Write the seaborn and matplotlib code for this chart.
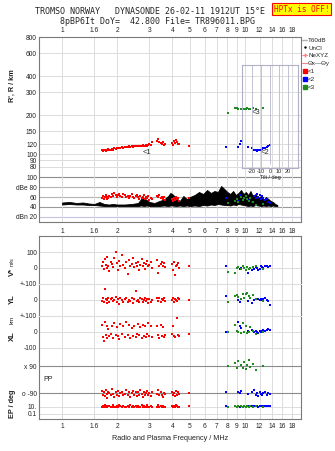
import numpy as np
import matplotlib
matplotlib.use("Agg")
import matplotlib.pyplot as plt
from matplotlib.lines import Line2D
from matplotlib.ticker import NullLocator
import seaborn as sns

sns.set_style("white")
plt.rcParams['font.family'] = ['Liberation Sans', 'DejaVu Sans']

# ---------------- data ----------------
FREQ_TICK_POS = [1, 1.5, 2, 3, 4, 5, 6, 7, 8, 9, 10, 12, 14, 16, 18]
FREQ_TICK_LABELS = ["1", "1.6", "2", "3", "4", "5", "6", "7", "8", "9", "10", "12", "14", "16", "18"]
HEIGHT_TICKS = [800, 600, 400, 300, 200, 150, 120, 100, 90, 80]
DB_TICKS = [100, 80, 60, 40, 20]
DB_LABELS = ["100", "dBe 80", "60", "40", "dBn 20"]

# echo group <1 (red)
R_F = [1.65, 1.67, 1.69, 1.71, 1.73, 1.75, 1.77, 1.79, 1.81, 1.84,
       1.87, 1.9, 1.93, 1.96, 1.99, 2.02, 2.05, 2.08, 2.12, 2.16,
       2.2, 2.24, 2.28, 2.32, 2.36, 2.4, 2.44, 2.48, 2.52, 2.56,
       2.6, 2.64, 2.68, 2.72, 2.76, 2.8, 2.84, 2.88, 2.92, 2.96,
       3.0, 3.05, 3.1, 3.3, 3.35, 3.4, 3.45, 3.5, 3.55, 3.6,
       3.65, 4.0, 4.05, 4.1, 4.15, 4.2, 4.25, 4.3, 4.35, 4.95]
R_H = [108, 107, 109, 108, 107, 109, 108, 110, 109, 108,
       110, 109, 111, 110, 112, 111, 112, 111, 113, 112,
       114, 113, 113, 115, 114, 115, 114, 116, 115, 117,
       116, 115, 117, 116, 118, 117, 116, 118, 117, 119,
       121, 118, 124, 127, 131, 125, 122, 120, 124, 119,
       121, 123, 118, 126, 122, 129, 124, 121, 120, 116]
R_A = [58, 62, 56, 60, 64, 57, 61, 59, 63, 60,
       66, 62, 68, 64, 60, 65, 67, 63, 61, 66,
       64, 60, 62, 58, 63, 66, 61, 59, 62, 64,
       60, 57, 63, 59, 61, 64, 56, 60, 58, 62,
       55, 59, 57, 62, 60, 64, 58, 61, 56, 60,
       54, 57, 52, 59, 55, 61, 56, 58, 53, 58]
R_V = [10, 35, -5, 55, 20, 0, 70, 15, -20, 40,
       25, 5, 60, 100, 30, -10, 45, 15, 80, 20,
       0, 35, -40, 50, 10, 25, 65, 5, 30, 15,
       40, -15, 20, 55, 10, 30, -5, 25, 45, 15,
       20, 35, 0, 50, -30, 15, 25, 40, 10, 30,
       5, 25, -10, 35, -45, 15, 20, 30, 0, 15]
R_YL = [-5, 10, -15, 70, 5, -20, 0, 15, -10, 5,
        10, -5, 0, 20, -15, 5, -25, 10, 0, -10,
        5, 15, -10, 0, -5, 10, -20, 5, 55, -5,
        0, -15, 10, 5, -10, 0, 15, -5, 5, -20,
        5, -10, 0, 10, -5, 15, -15, 5, 0, 10,
        -5, 0, 10, -10, 5, 0, -5, 10, 5, 0]
R_XL = [45, -30, -55, 60, -20, 35, -40, 20, -25, -10,
        40, -35, 55, -20, 30, -25, -45, 50, -15, 35,
        -30, 60, -20, 45, -35, 25, -25, 40, -30, -15,
        50, -20, 30, -35, 45, -25, 35, -30, -10, 55,
        -25, 40, -30, 35, -20, -35, 45, -25, 30, -30,
        -20, -15, 40, -25, -30, 120, 90, -20, -25, -10]
R_PP = [-75, -100, -85, -110, -70, -95, -120, -80, -90, -105,
        -65, -95, -115, -85, -100, -75, -110, -90, -80, -100,
        -95, -70, -105, -85, -115, -90, -75, -100, -85, -110,
        -80, -100, -70, -95, -115, -85, -105, -90, -75, -100,
        -90, -110, -80, -95, -70, -105, -85, -100, -115, -90,
        -95, -80, -105, -90, -110, -75, -100, -85, -95, -90]
R_EP = [12, 25, 10, 30, 11, 18, 9, 22, 14, 13,
        11, 27, 13, 10, 20, 12, 35, 14, 11, 16,
        13, 10, 24, 12, 30, 11, 14, 9, 26, 12,
        14, 12, 10, 28, 13, 20, 11, 12, 32, 10,
        12, 25, 13, 11, 30, 10, 14, 12, 22, 13,
        11, 24, 12, 16, 10, 28, 15, 11, 12, 14]

# echo group <2 (blue)
B_F = [7.9, 9.2, 9.35, 9.5, 10.4, 10.9, 11.2, 11.4, 11.6, 11.8, 12.0, 12.2, 12.4, 12.6, 12.8, 13.1, 13.4, 13.7]
B_H = [113, 113, 121, 126, 113, 111, 109, 108, 107, 108, 108, 109, 110, 111, 112, 114, 116, 119]
B_A = [58, 52, 64, 60, 55, 50, 62, 58, 66, 60, 64, 56, 62, 58, 54, 56, 50, 48]
B_V = [12, 5, -5, 0, -30, -10, -5, 5, 0, -10, -5, 10, 5, 0, 15, 10, 5, 10]
B_YL = [25, 0, -10, 5, -5, -20, 0, 5, 5, 5, 0, 5, 0, 5, 10, 0, -5, -30]
B_XL = [0, 60, 40, 25, 5, 10, 0, 5, 0, -5, 5, 0, 5, 10, 5, 10, 20, 10]
B_PP = [-80, -85, -90, -75, -95, -85, -70, -100, -90, -110, -80, -95, -105, -90, -85, -100, -90, -95]
B_EP = [15, 20, 12, 25, 18, 14, 22, 16, 20, 12, 18, 25, 15, 20, 14, 18, 22, 16]

# echo group <3 (green)
G_F = [8.1, 8.8, 9.0, 9.2, 9.5, 9.7, 9.9, 10.1, 10.3, 10.5, 10.7, 11.0, 11.5, 12.5]
G_H = [207, 229, 226, 224, 225, 224, 225, 224, 226, 225, 224, 226, 225, 228]
G_A = [48, 52, 56, 50, 60, 54, 58, 62, 56, 52, 58, 50, 44, 46]
G_V = [-25, -30, 0, 5, -5, 10, 0, -10, 5, -5, 0, 5, 10, -5]
G_YL = [-15, 25, 30, 20, 5, 35, 15, 40, 45, 25, 10, 30, 5, -5]
G_XL = [0, 45, 5, 0, -5, 55, 0, 35, -5, 0, 30, 5, -10, 0]
G_PP = [90, 110, 75, 125, 95, 80, 115, 70, 100, 130, 85, 105, 65, 90]
G_EP = [12, 15, 10, 18, 14, 12, 16, 11, 15, 13, 17, 12, 14, 10]

# noise envelope (dB)
NF = [1.0, 1.1, 1.2, 1.3, 1.4, 1.5, 1.6, 1.7, 1.8, 1.9,
      2.0, 2.2, 2.4, 2.6, 2.7, 2.8, 2.9, 3.0, 3.2, 3.4,
      3.6, 3.8, 3.9, 4.0, 4.2, 4.4, 4.6, 4.8, 5.0, 5.3,
      5.6, 5.9, 6.2, 6.5, 6.8, 7.1, 7.4, 7.7, 8.0, 8.3,
      8.6, 8.9, 9.2, 9.5, 9.8, 10.1, 10.4, 10.7, 11.0, 11.4,
      11.8, 12.2, 12.6, 13.0, 13.4, 13.8, 14.2, 14.6, 15.0]
N_LO = [45, 46, 45, 45, 44, 44, 43, 42, 42, 42,
        42, 42, 42, 42, 43, 42, 43, 42, 42, 42,
        43, 42, 43, 43, 42, 43, 42, 43, 42, 43,
        42, 44, 43, 45, 44, 46, 45, 44, 44, 43,
        45, 44, 46, 45, 44, 43, 42, 43, 42, 44,
        43, 42, 43, 42, 43, 42, 43, 42, 42]
N_HI = [49, 50, 48, 49, 47, 46, 50, 46, 45, 46,
        45, 45, 46, 48, 56, 58, 54, 50, 48, 52,
        55, 62, 68, 66, 58, 52, 62, 56, 60, 64,
        70, 66, 74, 68, 72, 70, 82, 76, 70, 66,
        72, 64, 68, 74, 66, 70, 64, 72, 62, 66,
        58, 62, 54, 60, 56, 52, 50, 46, 44]

TILT_DEG = [0]
TILT_COUNT = [0.035]

RED, BLUE, GREEN = '#ff0000', '#0000ff', '#1e8c1e'

# ---------------- layout ----------------
W, H = 335, 451
fig = plt.figure(figsize=(W / 100, H / 100), dpi=100)


def rect(x0, y0, x1, y1):
    return [x0 / W, 1 - y1 / H, (x1 - x0) / W, (y1 - y0) / H]


FRAME = '#7a7a7a'
GRID = '#dcdcdc'
TICK_FS = 4.8


def setup(ax, hide=()):
    ax.set_facecolor('white')
    ax.set_xscale('log')
    ax.set_xlim(0.748, 20.2)
    ax.set_xticks(FREQ_TICK_POS)
    ax.set_xticklabels(FREQ_TICK_LABELS)
    ax.xaxis.set_minor_locator(NullLocator())
    ax.grid(axis='x', color=GRID, lw=0.7)
    ax.set_axisbelow(True)
    ax.tick_params(axis='both', length=0, labelsize=TICK_FS, pad=1.5,
                   labelbottom=False, labeltop=False, colors='#222222')
    for s in ax.spines.values():
        s.set_color(FRAME)
        s.set_linewidth(0.8)
    for s in hide:
        ax.spines[s].set_visible(False)


def pts(ax, x, y, c):
    sns.scatterplot(x=x, y=y, ax=ax, color=c, marker='s', s=4.0,
                    linewidth=0, legend=False, zorder=3)


# --- height panel ---
ax_h = fig.add_axes(rect(39, 37, 301, 172))
setup(ax_h, hide=('bottom',))
ax_h.set_yscale('log')
ax_h.set_ylim(73.2, 800)
ax_h.set_yticks(HEIGHT_TICKS)
ax_h.set_yticklabels([str(v) for v in HEIGHT_TICKS])
ax_h.yaxis.set_minor_locator(NullLocator())
ax_h.grid(axis='y', color=GRID, lw=0.7)
ax_h.tick_params(axis='x', labeltop=True, pad=2)
pts(ax_h, R_F, R_H, RED)
pts(ax_h, B_F, B_H, BLUE)
pts(ax_h, G_F, G_H, GREEN)
ax_h.text(2.77, 104, "<1", fontsize=5.5, va='center', ha='left', zorder=4)
ax_h.text(12.2, 104, "<2", fontsize=5.5, va='center', ha='left', zorder=4)
ax_h.text(10.9, 211, "<3", fontsize=5.5, va='center', ha='left', zorder=4)
ax_h.set_xlabel('')
ax_h.set_ylabel('')

# --- dB panel ---
ax_db = fig.add_axes(rect(39, 172, 301, 222))
setup(ax_db, hide=('top',))
ax_db.set_ylim(10, 110)
ax_db.set_yticks(DB_TICKS)
ax_db.set_yticklabels(DB_LABELS)
grid_cols = ['#8c8c8c', '#b4b4b4', '#b4b4b4', '#9a9a9a', '#c4c4e4']
for v, c in zip(DB_TICKS, grid_cols):
    ax_db.axhline(v, color=c, lw=0.8, zorder=0.5)
ax_db.tick_params(axis='x', labelbottom=True, pad=4)
ax_db.fill_between(NF, N_LO, N_HI, color='black', lw=0.6, zorder=2)
pts(ax_db, R_F, R_A, RED)
pts(ax_db, B_F, B_A, BLUE)
pts(ax_db, G_F, G_A, GREEN)
ax_db.set_xlabel('')
ax_db.set_ylabel('')

# --- tilt inset ---
ax_t = fig.add_axes(rect(242, 65, 298, 168))
ax_t.patch.set_alpha(0)
ax_t.set_xlim(-31, 31)
ax_t.set_ylim(0, 1)
ax_t.set_xticks([-20, -10, 0, 10, 20])
ax_t.set_xticklabels(["-20", "-10", "0", "10", "20"])
ax_t.set_yticks([])
ax_t.grid(axis='x', color='#b8b8cc', lw=0.6)
ax_t.tick_params(axis='x', length=0, labelsize=4.0, pad=1, colors='#222222')
for s in ax_t.spines.values():
    s.set_color('#b0b0c8')
    s.set_linewidth(0.8)
ax_t.bar(TILT_DEG, TILT_COUNT, width=1.0, color=RED, zorder=3)
ax_t.set_xlabel("Tilt / deg", fontsize=4.0, labelpad=0.5)

# --- bottom stack ---
ax_v = fig.add_axes(rect(39, 236, 301, 284))
setup(ax_v, hide=('bottom',))
ax_v.set_ylim(-100, 200)
ax_v.set_yticks([100, 0])
ax_v.set_yticklabels(["100", "0"])
ax_v.grid(axis='y', color=GRID, lw=0.7)

ax_yl = fig.add_axes(rect(39, 284, 301, 316))
setup(ax_yl, hide=('bottom',))
ax_yl.spines['top'].set_color(GRID)
ax_yl.set_ylim(-100, 100)
ax_yl.set_yticks([100, 0])
ax_yl.set_yticklabels(["+-100", "0"])
ax_yl.grid(axis='y', color=GRID, lw=0.7)

ax_xl = fig.add_axes(rect(39, 316, 301, 356))
setup(ax_xl, hide=('bottom',))
ax_xl.spines['top'].set_color(GRID)
ax_xl.set_ylim(-150, 100)
ax_xl.set_yticks([100, 0, -100])
ax_xl.set_yticklabels(["+-100", "0", "-100"])
ax_xl.grid(axis='y', color=GRID, lw=0.7)

ax_pp = fig.add_axes(rect(39, 356, 301, 401))
setup(ax_pp, hide=('top', 'bottom'))
ax_pp.set_ylim(-143, 157)
ax_pp.set_yticks([90, -90])
ax_pp.set_yticklabels(["x 90", "o -90"])
ax_pp.grid(axis='y', color='#8c8c8c', lw=0.8)
ax_pp.text(0.015, 0.47, "PP", transform=ax_pp.transAxes, fontsize=5,
           va='center', ha='left', color='#222222')

ax_ep = fig.add_axes(rect(39, 401, 301, 419))
setup(ax_ep, hide=('top',))
ax_ep.set_yscale('log')
ax_ep.set_ylim(0.0037, 518)
ax_ep.set_yticks([10, 0.1])
ax_ep.set_yticklabels(["10.", "0.1"])
ax_ep.yaxis.set_minor_locator(NullLocator())
ax_ep.grid(axis='y', color=GRID, lw=0.7)
ax_ep.tick_params(axis='x', labelbottom=True, pad=3)

for ax, (r, b, g) in zip([ax_v, ax_yl, ax_xl, ax_pp, ax_ep],
                         [(R_V, B_V, G_V), (R_YL, B_YL, G_YL), (R_XL, B_XL, G_XL),
                          (R_PP, B_PP, G_PP), (R_EP, B_EP, G_EP)]):
    pts(ax, R_F, r, RED)
    pts(ax, B_F, b, BLUE)
    pts(ax, G_F, g, GREEN)
    ax.set_xlabel('')
    ax.set_ylabel('')

# --- texts ---
fig.text(35 / W, 1 - 12 / H, "TROMSO NORWAY   DYNASONDE 26-02-11 1912UT 15°E",
         family='DejaVu Sans Mono', fontsize=6, va='center', ha='left')
fig.text(60 / W, 1 - 21 / H, "8pBP6It DoY=  42.800 File= TR896011.BPG",
         family='DejaVu Sans Mono', fontsize=6, va='center', ha='left')
fig.text(274 / W, 1 - 9 / H, "HPTx is OFF!", family='DejaVu Sans Mono',
         fontsize=5.6, color='red', va='center', ha='left',
         bbox=dict(facecolor='#ffff00', edgecolor='red', pad=1.2, lw=0.8))

lab = dict(rotation=90, va='center', ha='center', color='#222222')
fig.text(12 / W, 1 - 86 / H, "R', R / km", fontsize=5.2, fontweight='bold', **lab)
fig.text(12 / W, 1 - 272 / H, "V*", fontsize=5.5, fontweight='bold', **lab)
fig.text(12 / W, 1 - 262 / H, "m/s", fontsize=4, **lab)
fig.text(12 / W, 1 - 299 / H, "YL", fontsize=5.5, fontweight='bold', **lab)
fig.text(12 / W, 1 - 320 / H, "km", fontsize=4.5, **lab)
fig.text(12 / W, 1 - 336 / H, "XL", fontsize=5.5, fontweight='bold', **lab)
fig.text(12 / W, 1 - 404 / H, "EP / deg", fontsize=5.2, fontweight='bold', **lab)
fig.text(170 / W, 1 - 439 / H, "Radio and Plasma Frequency / MHz", fontsize=5.2,
         va='center', ha='center', color='#222222')

# --- legend ---
handles = [
    Line2D([], [], color='#b0b0b0', lw=1.0),
    Line2D([], [], color='black', marker='.', ls='', ms=1.5),
    Line2D([], [], color='#ff8080', marker='+', ms=3, lw=0.6),
    Line2D([], [], color='#ff8080', lw=0.8),
    Line2D([], [], color=RED, marker='s', ls='', ms=2.2),
    Line2D([], [], color=BLUE, marker='s', ls='', ms=2.2),
    Line2D([], [], color=GREEN, marker='s', ls='', ms=2.2),
]
labels = ["T60dB", "UnCl", "NeXYZ", "Θx—Θy", "<1", "<2", "<3"]
fig.legend(handles, labels, loc='upper left', bbox_to_anchor=(302 / W, 1 - 37 / H),
           frameon=False, fontsize=4.5, handlelength=0.7, handletextpad=0.25,
           labelspacing=0.4, borderaxespad=0, borderpad=0.05)

fig.savefig("out.png", dpi=100)
